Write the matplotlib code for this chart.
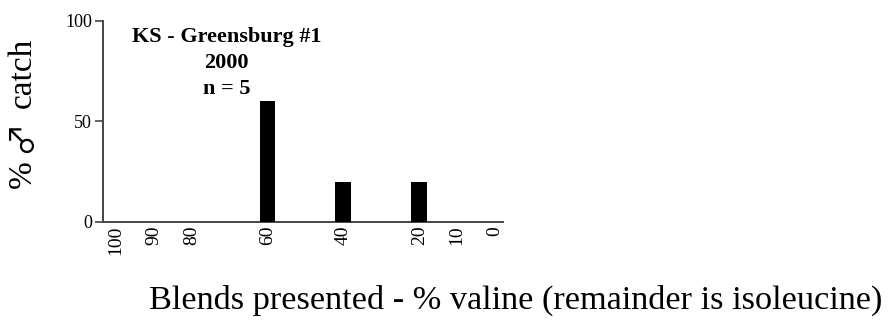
import matplotlib
matplotlib.use("Agg")
import matplotlib.pyplot as plt

blends = [100, 90, 80, 60, 40, 20, 10, 0]
catch_pct = [0, 0, 0, 60, 20, 20, 0, 0]
yticks = [0, 50, 100]
title_lines = ["KS - Greensburg #1", "2000", "n = 5"]
ylabel_parts = ["%", "\u2642", "catch"]
xlabel = "Blends presented - % valine (remainder is isoleucine)"

serif = ["Liberation Serif", "DejaVu Serif"]
plt.rcParams['font.family'] = serif

fig = plt.figure(figsize=(8.91, 3.28), dpi=100)
ax = fig.add_axes([102.5/891, 1-221.7/328, 400.5/891, 201/328])

ax.bar(blends, catch_pct, width=4.2, color="black", zorder=3)
ax.set_xlim(103.5, -2.1)
ax.set_ylim(0, 100)
ax.set_yticks(yticks)
ax.set_yticklabels([str(t) for t in yticks], fontsize=13)
ax.set_xticks(blends)
ax.set_xticklabels([str(b) for b in blends], rotation=90, fontsize=14)
ax.tick_params(axis='x', length=0, pad=3)
ax.tick_params(axis='y', length=6, width=1.2, pad=1.5, color="#444444")
for s in ["top", "right"]:
    ax.spines[s].set_visible(False)
for s in ["left", "bottom"]:
    ax.spines[s].set_linewidth(1.4)
    ax.spines[s].set_color("#444444")

ax.text(0.31, 0.788, "\n".join(title_lines), transform=ax.transAxes,
        ha="center", va="center", fontsize=16, fontweight="bold",
        linespacing=1.4)

# y label built from parts so the male sign can be drawn at a matching size
fig.text(23/891, 1-174/328, ylabel_parts[0], rotation=90, ha="center",
         va="center", fontsize=24)
fig.text(22/891, 1-136/328, ylabel_parts[1], rotation=90, ha="center",
         va="center", fontsize=24, family=["Noto Sans CJK JP", "DejaVu Serif"])
fig.text(23/891, 1-73/328, ylabel_parts[2], rotation=90, ha="center",
         va="center", fontsize=24)

fig.text(516/891, 1-300/328, xlabel, ha="center", va="center", fontsize=24.7)

fig.savefig("out.png", dpi=100)
